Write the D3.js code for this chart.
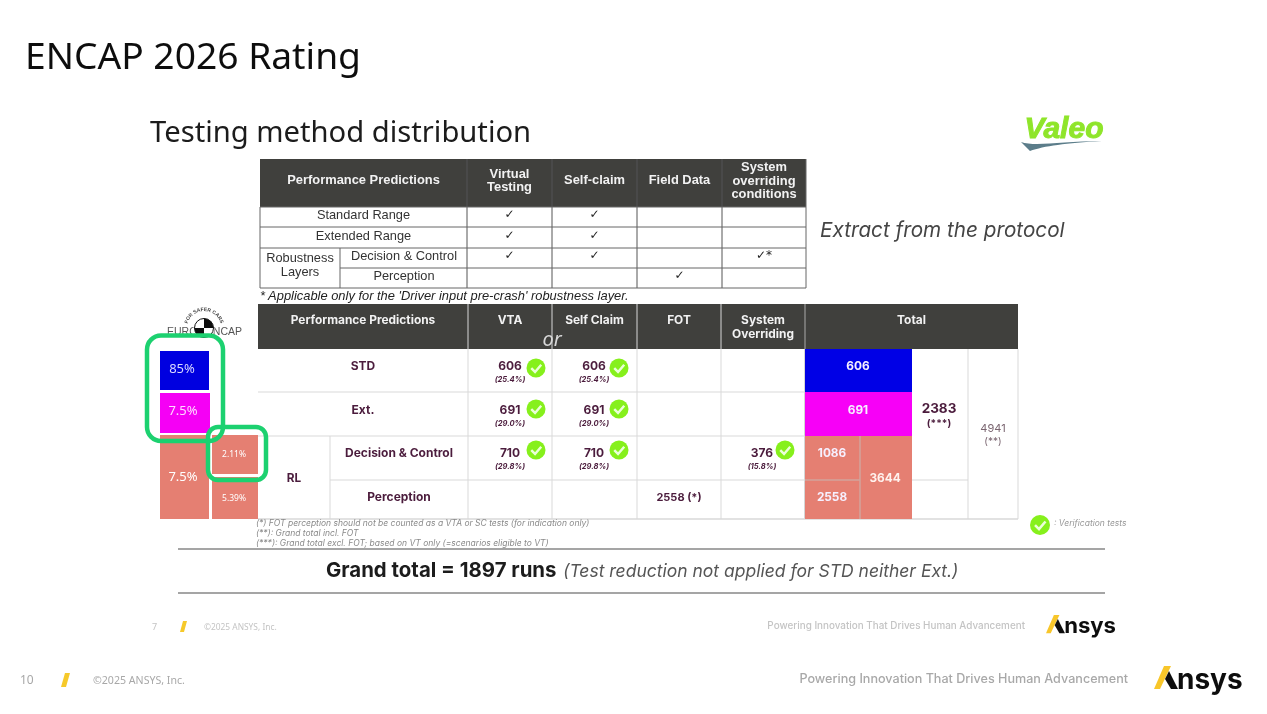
<!DOCTYPE html>
<html>
<head>
    <meta charset="utf-8">
    <title>ENCAP 2026 Rating</title>
    <script src="https://d3js.org/d3.v7.min.js"></script>
    <style>
        html, body { margin: 0; padding: 0; background: #fff; overflow: hidden; }
        svg { display: block; }
    </style>
</head>
<body>
    <svg id="slide" width="1267" height="714"></svg>
    <script>
        // ---- data ----
        var protoHeaders = [["Performance Predictions"], ["Virtual", "Testing"], ["Self-claim"], ["Field Data"], ["System", "overriding", "conditions"]];
        var protoRows = ["Standard Range", "Extended Range", "Decision & Control", "Perception"];
        var protoVirtual = ["✓", "✓", "✓", ""];
        var protoSelf = ["✓", "✓", "✓", ""];
        var protoField = ["", "", "", "✓"];
        var protoOverride = ["", "", "✓*", ""];

        var runHeaders = [["Performance Predictions"], ["VTA"], ["Self Claim"], ["FOT"], ["System", "Overriding"], ["Total"]];
        var runRows = ["STD", "Ext.", "Decision & Control", "Perception"];
        var vtaRuns = [606, 691, 710, null];
        var vtaShare = ["(25.4%)", "(29.0%)", "(29.8%)", null];
        var selfRuns = [606, 691, 710, null];
        var selfShare = ["(25.4%)", "(29.0%)", "(29.8%)", null];
        var overrideRuns = [null, null, 376, null];
        var overrideShare = [null, null, "(15.8%)", null];
        var fotLabel = "2558 (*)";
        var totalRuns = [606, 691, 1086, 2558];
        var rlTotal = 3644;
        var vtTotal = 2383;
        var grandTotal = 4941;

        var weightTop = ["85%", "7.5%"];
        var weightRl = "7.5%";
        var weightRlParts = ["2.11%", "5.39%"];

        var footnotes = [
            "(*) FOT perception should not be counted as a VTA or SC tests (for indication only)",
            "(**): Grand total incl. FOT",
            "(***): Grand total excl. FOT; based on VT only (=scenarios eligible to VT)"
        ];

        // ---- layout ----
        var svg = d3.select("#slide");
        var SANS = "'Noto Sans', sans-serif";
        var ARIAL = "'Liberation Sans', Arial, sans-serif";
        var WIDE = "Inter, 'Noto Sans', sans-serif";
        var DARK = "#3f3f3d", PLUM = "#4b1c3c", SALMON = "#e57f72", CHECK = "#86f01a";

        var blur = svg.append("defs").append("filter").attr("id", "soft")
            .attr("x", "-5%").attr("y", "-5%").attr("width", "110%").attr("height", "110%");
        blur.append("feGaussianBlur").attr("stdDeviation", 0.55);

        var page = svg.append("g").attr("filter", "url(#soft)");
        page.append("rect").attr("width", 1267).attr("height", 714).attr("fill", "#fff");

        function label(parent, x, y, str, size, color, opts) {
            opts = opts || {};
            return parent.append("text")
                .attr("x", x).attr("y", y)
                .attr("font-family", opts.family || WIDE)
                .attr("font-size", size)
                .attr("font-weight", opts.weight || "normal")
                .attr("font-style", opts.style || "normal")
                .attr("text-anchor", opts.anchor || "middle")
                .attr("fill", color)
                .text(str);
        }

        function line(parent, x1, y1, x2, y2, color, w) {
            parent.append("line").attr("x1", x1).attr("y1", y1).attr("x2", x2).attr("y2", y2)
                .attr("stroke", color).attr("stroke-width", w);
        }

        function box(parent, x0, y0, x1, y1, color) {
            parent.append("rect").attr("x", x0).attr("y", y0)
                .attr("width", x1 - x0).attr("height", y1 - y0).attr("fill", color);
        }

        // headings
        label(page, 25, 69, "ENCAP 2026 Rating", 37.2, "#111", { family: SANS, anchor: "start" });
        label(page, 150, 142, "Testing method distribution", 29.2, "#1a1a1a", { family: SANS, anchor: "start" });
        label(page, 820, 237, "Extract from the protocol", 20.7, "#444", { style: "italic", anchor: "start" });

        // ---- protocol table ----
        var protoCols = d3.scaleOrdinal().domain([0, 1, 2, 3, 4, 5]).range([260, 467, 552, 637, 722, 806]);
        var protoY = d3.scaleOrdinal().domain([0, 1, 2, 3, 4]).range([207, 227, 248, 268, 288]);
        var proto = page.append("g");

        box(proto, protoCols(0), 159, protoCols(5), protoY(0), DARK);
        protoHeaders.forEach(function (lines, i) {
            var cx = (protoCols(i) + protoCols(i + 1)) / 2;
            lines.forEach(function (str, k) {
                label(proto, cx, 184 - (lines.length - 1) * 6.5 + k * 13.5, str, 12.9, "#f2f2f2", { family: ARIAL, weight: "bold" });
            });
            if (i > 0) line(proto, protoCols(i), 159, protoCols(i), 288, "#555", 1);
        });
        protoY.domain().forEach(function (i) {
            line(proto, i === 3 ? 340 : protoCols(0), protoY(i), protoCols(5), protoY(i), "#666", 1);
        });
        line(proto, protoCols(0), 207, protoCols(0), 288, "#666", 1);
        line(proto, protoCols(5), 159, protoCols(5), 288, "#666", 1);
        line(proto, 340, 248, 340, 288, "#666", 1);

        protoRows.forEach(function (name, r) {
            var cy = (protoY(r) + protoY(r + 1)) / 2 + 4;
            var cx = r < 2 ? (protoCols(0) + protoCols(1)) / 2 : 404;
            label(proto, cx, cy - 2, name, 12.8, "#333", { family: ARIAL });
            [protoVirtual, protoSelf, protoField, protoOverride].forEach(function (col, c) {
                if (col[r]) {
                    label(proto, (protoCols(c + 1) + protoCols(c + 2)) / 2, cy - 3, col[r], 12, "#222", { family: "'DejaVu Sans'" });
                }
            });
        });
        label(proto, 300, 262, "Robustness", 12.8, "#333", { family: ARIAL });
        label(proto, 300, 276, "Layers", 12.8, "#333", { family: ARIAL });
        label(page, 260, 300, "* Applicable only for the 'Driver input pre-crash' robustness layer.", 12.9, "#222", { family: ARIAL, style: "italic", anchor: "start" });

        // ---- run table ----
        var runCols = d3.scaleOrdinal().domain([0, 1, 2, 3, 4, 5, 6, 7, 8]).range([258, 468, 552, 637, 721, 805, 912, 968, 1018]);
        var runY = d3.scaleOrdinal().domain([0, 1, 2, 3, 4]).range([349, 392, 436, 480, 519]);
        var GRID = "#d9d9d9";
        var runs = page.append("g");

        box(runs, runCols(0), 304, runCols(8), runY(0), DARK);
        runHeaders.forEach(function (lines, i) {
            var left = runCols(i), right = i === 5 ? runCols(8) : runCols(i + 1);
            lines.forEach(function (str, k) {
                label(runs, (left + right) / 2, 324 + k * 13.5, str, 11.9, "#f2f2f2", { weight: "bold" });
            });
            if (i > 0) line(runs, left, 304, left, 519, i === 5 ? "#aaa" : GRID, 1);
        });
        line(runs, runCols(0), 392, runCols(6), 392, GRID, 1);
        line(runs, runCols(0), 436, runCols(6), 436, GRID, 1);
        line(runs, 330, 480, runCols(7), 480, GRID, 1);
        line(runs, 330, 436, 330, 519, GRID, 1);
        line(runs, runCols(7), 349, runCols(7), 519, GRID, 1);
        line(runs, runCols(0), 519, runCols(8), 519, GRID, 1.5);
        line(runs, runCols(8), 349, runCols(8), 519, GRID, 1);

        // coloured totals
        box(runs, 805, runY(0), 912, runY(1), "#0000e6");
        box(runs, 805, runY(1), 912, runY(2), "#f700f7");
        box(runs, 805, runY(2), 912, runY(4), SALMON);
        line(runs, 860, 436, 860, 519, "#d2a39c", 1.5);
        line(runs, 805, 480, 860, 480, "#d2a39c", 1.5);

        function checkMark(parent, x, y, r) {
            parent.append("circle").attr("cx", x).attr("cy", y).attr("r", r).attr("fill", CHECK);
            parent.append("path")
                .attr("d", d3.line()([[x - r * 0.5, y + r * 0.02], [x - r * 0.1, y + r * 0.42], [x + r * 0.55, y - r * 0.35]]))
                .attr("fill", "none").attr("stroke", "#eaffd8").attr("stroke-width", r * 0.26);
        }

        function runCell(parent, cx, r, value, share) {
            if (value === null) return;
            var base = [370, 414, 457][r];
            label(parent, cx, base, value, 12, PLUM, { weight: "bold" });
            label(parent, cx, base + 11.5, share, 7.6, PLUM, { weight: "bold", style: "italic" });
        }

        var checkY = [368, 409, 450];
        runRows.forEach(function (name, r) {
            var base = [370, 414, 457, 501][r];
            runCell(runs, 510, r, vtaRuns[r], vtaShare[r]);
            runCell(runs, 594, r, selfRuns[r], selfShare[r]);
            runCell(runs, 762, r, overrideRuns[r], overrideShare[r]);
            if (vtaRuns[r] !== null) checkMark(runs, 536, checkY[r], 9.5);
            if (selfRuns[r] !== null) checkMark(runs, 619, checkY[r], 9.5);
            if (overrideRuns[r] !== null) checkMark(runs, 785, checkY[r], 9.5);
            var cx = r < 2 ? 363 : 399;
            label(runs, cx, base, name, 12, PLUM, { weight: "bold" });
            var tx = r < 2 ? 858 : 832;
            label(runs, tx, base, totalRuns[r], 11.8, "#f6f0ff", { weight: "bold" });
        });
        label(runs, 294, 482, "RL", 11.8, PLUM, { weight: "bold" });
        label(runs, 679, 501, fotLabel, 11, PLUM, { weight: "bold" });
        label(runs, 885, 482, rlTotal, 11.8, "#fff2ee", { weight: "bold" });
        label(runs, 939, 413, vtTotal, 13.5, PLUM, { weight: "bold" });
        label(runs, 939, 427, "(***)", 10, PLUM, { weight: "bold" });
        label(runs, 993, 432, grandTotal, 11, "#7a6570");
        label(runs, 993, 445, "(**)", 10, "#7a6570");

        // "or" overlay between the VTA and Self Claim columns
        label(page, 552, 346, "or", 20, "#d8d8d8", { family: SANS, style: "italic" });

        // ---- weight stack on the left ----
        var stack = page.append("g");
        box(stack, 160, 351, 209, 390, "#0000e0");
        box(stack, 160, 393, 210, 433, "#f500f5");
        box(stack, 160, 435, 209, 519, SALMON);
        box(stack, 212, 435, 258, 474, SALMON);
        box(stack, 212, 477, 258, 519, SALMON);
        label(stack, 182, 373, weightTop[0], 13, "#d8d8ff", { family: SANS });
        label(stack, 183, 415, weightTop[1], 13, "#ffd8ff", { family: SANS });
        label(stack, 183, 481, weightRl, 13, "#fff", { family: SANS });
        label(stack, 234, 457, weightRlParts[0], 8.5, "#fff", { family: SANS });
        label(stack, 234, 501, weightRlParts[1], 8.5, "#fff", { family: SANS });

        // Euro NCAP logo
        var ncap = page.append("g");
        label(ncap, 167, 335, "EURO", 10.5, "#555", { family: ARIAL, anchor: "start" });
        label(ncap, 242, 335, "NCAP", 10.5, "#555", { family: ARIAL, anchor: "end" });
        ncap.append("circle").attr("cx", 204).attr("cy", 328).attr("r", 10.5).attr("fill", "#fff");
        [[0, 90, "#111"], [90, 180, "#fff"], [180, 270, "#111"], [270, 360, "#fff"]].forEach(function (q) {
            ncap.append("path")
                .attr("transform", "translate(204,328)")
                .attr("d", d3.arc().innerRadius(0).outerRadius(9.5)
                    .startAngle(q[0] * Math.PI / 180).endAngle(q[1] * Math.PI / 180)())
                .attr("fill", q[2]);
        });
        ncap.append("circle").attr("cx", 204).attr("cy", 328).attr("r", 9.5).attr("fill", "none").attr("stroke", "#111");
        ncap.append("path").attr("id", "ncapArc").attr("fill", "none").attr("d", "M187,328 A17,17 0 0 1 221,328");
        ncap.append("text").attr("font-family", ARIAL).attr("font-size", 5).attr("font-weight", "bold").attr("fill", "#444")
            .attr("text-anchor", "middle")
            .append("textPath").attr("href", "#ncapArc").attr("startOffset", "50%").text("FOR SAFER CARS");

        // green highlight boxes
        var highlight = page.append("g").attr("fill", "none").attr("stroke", "#1fd16f").attr("stroke-width", 4.5);
        highlight.append("rect").attr("x", 147).attr("y", 335.5).attr("width", 76).attr("height", 105.5).attr("rx", 14);
        highlight.append("rect").attr("x", 208).attr("y", 427).attr("width", 58).attr("height", 53).attr("rx", 10);

        // footnotes and legend
        footnotes.forEach(function (str, i) {
            label(page, 256, 526 + i * 10, str, 8.5, "#8a8a8a", { style: "italic", anchor: "start" });
        });
        checkMark(page, 1040, 525, 10);
        label(page, 1054, 526, ": Verification tests", 8.5, "#999", { style: "italic", anchor: "start" });

        // grand total band
        line(page, 178, 549, 1105, 549, "#a5a5a5", 2);
        line(page, 178, 593, 1105, 593, "#a5a5a5", 2);
        label(page, 326, 577, "Grand total = 1897 runs", 20.4, "#1d1d1d", { weight: "bold", anchor: "start" });
        label(page, 563, 577, "(Test reduction not applied for STD neither Ext.)", 17.5, "#555", { style: "italic", anchor: "start" });

        // Valeo logo
        var valeo = page.append("g");
        label(valeo, 1064, 138, "Valeo", 30, "#8fe52a", { family: ARIAL, weight: "bold", style: "italic" })
            .attr("stroke", "#8fe52a").attr("stroke-width", 1);
        valeo.append("path")
            .attr("d", "M1021,142 C1036,147 1062,141 1102,141 C1066,143 1044,146 1030,151 Z")
            .attr("fill", "#5b7d8a");

        // slide footers, inner (smaller, faded) then outer
        function footer(g, o) {
            label(g, o.numX, o.numY, o.num, o.numSize, o.fade, { family: SANS, anchor: "start" });
            g.append("path").attr("d", d3.line()(o.slash)).attr("fill", "#f6c92c");
            label(g, o.copyX, o.numY, "©2025 ANSYS, Inc.", o.copySize, o.fade, { family: SANS, anchor: "start" });
            label(g, o.tagX, o.tagY, "Powering Innovation That Drives Human Advancement", o.tagSize, o.fade, { anchor: "end", weight: 500 });
            var k = o.logoScale, lx = o.logoX, ly = o.logoY;
            var pts = function (list) { return d3.line()(list.map(function (p) { return [lx + p[0] * k, ly + p[1] * k]; })) + "Z"; };
            g.append("path").attr("d", pts([[0, 23], [10, 0], [17, 0], [6, 23]])).attr("fill", "#f8c62a");
            g.append("path").attr("d", pts([[15, 5], [24, 23], [17, 23], [11, 13]])).attr("fill", "#111");
            label(g, lx + 23 * k, ly + 23 * k, "nsys", 28 * k, "#111", { anchor: "start", weight: "bold" });
        }

        footer(page.append("g"), {
            num: "7", numX: 152, numY: 630, numSize: 9, fade: "#c4c4c4",
            slash: [[180, 632], [183, 621], [187, 621], [184, 632]],
            copyX: 204, copySize: 8.4,
            tagX: 1025, tagY: 629, tagSize: 9.9,
            logoX: 1046, logoY: 615, logoScale: 0.79
        });
        footer(page.append("g"), {
            num: "10", numX: 20, numY: 684, numSize: 12, fade: "#a8a8a8",
            slash: [[61, 687], [65, 673], [70, 673], [66, 687]],
            copyX: 93, copySize: 10.6,
            tagX: 1128, tagY: 683, tagSize: 12.6,
            logoX: 1154, logoY: 666, logoScale: 1
        });
    </script>
</body>
</html>
